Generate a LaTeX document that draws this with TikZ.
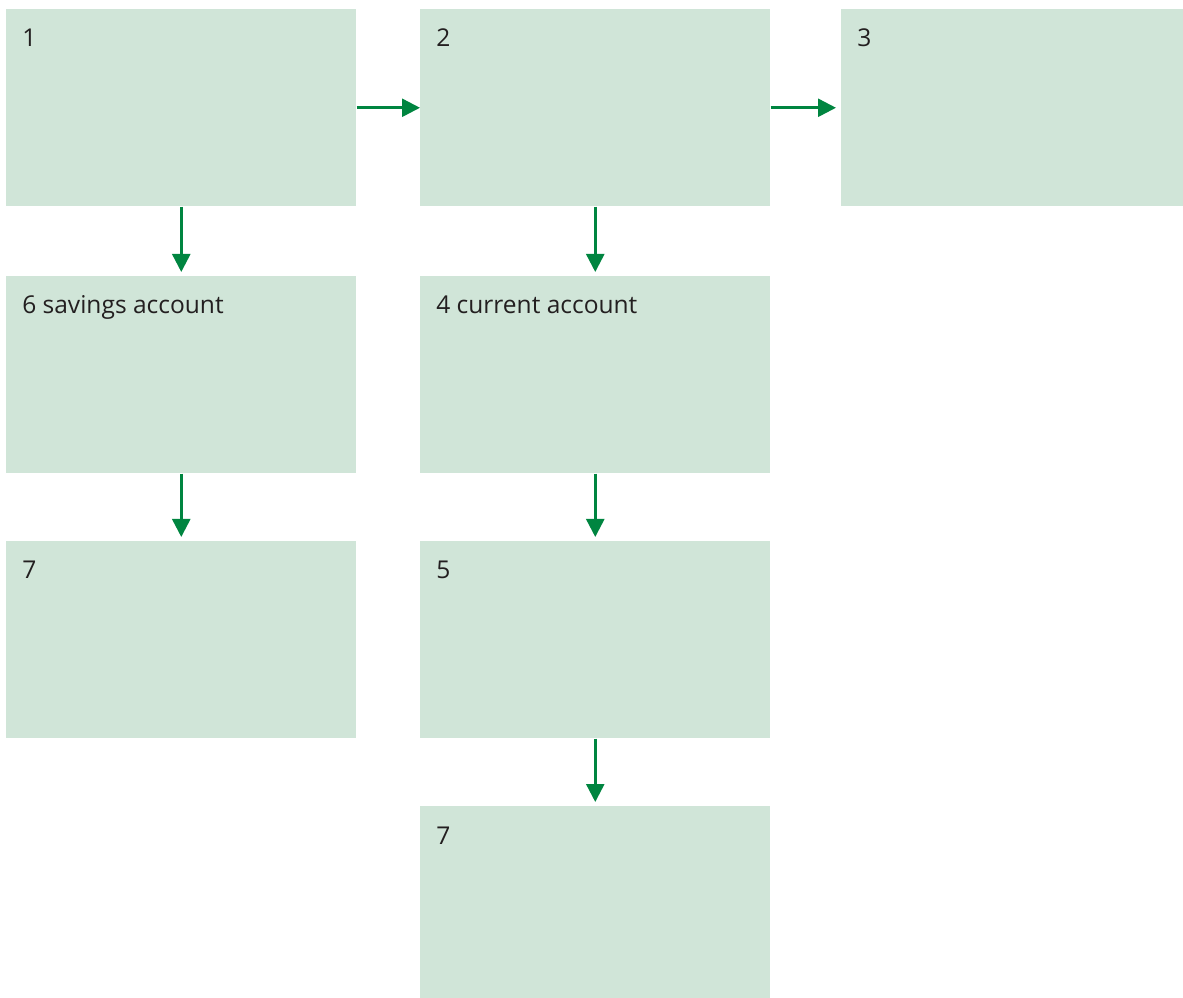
\documentclass[tikz,border=0pt]{standalone}
\usepackage{fontspec}
\setmainfont{Open Sans}
\usetikzlibrary{arrows.meta}
\definecolor{boxfill}{HTML}{D0E5D8}
\definecolor{arrgreen}{HTML}{008540}
\definecolor{txt}{HTML}{231F20}
\begin{document}
\begin{tikzpicture}[x=0.75pt,y=-0.75pt,
  box/.style={rectangle, fill=boxfill, draw=none, inner sep=0pt, anchor=north west,
    minimum width=262.5pt, minimum height=147.75pt},
  lab/.style={label={[anchor=base west, xshift=12pt, yshift=-28.5pt, inner sep=0pt,
    text=txt, font=\fontsize{18.4pt}{22pt}\selectfont]north west:#1}},
  arr/.style={draw=arrgreen, line width=1.9pt, -{Triangle[length=13.5pt, width=13.5pt]}}]
\useasboundingbox (0,0) rectangle (1183,998);
\node[box, lab=1] (n1) at (6,9) {};
\node[box, lab=2] (n2) at (420,9) {};
\node[box, lab=3, minimum width=256.5pt] (n3) at (841,9) {};
\node[box, lab=6 savings account] (n6) at (6,276) {};
\node[box, lab=4 current account] (n4) at (420,276) {};
\node[box, lab=7] (n7a) at (6,541) {};
\node[box, lab=5] (n5) at (420,541) {};
\node[box, lab=7, minimum height=144pt] (n7b) at (420,806) {};
\draw[arr] (n1.east) -- (n2.west);
\draw[arr, shorten >=3.75pt] (n2.east) -- (n3.west);
\draw[arr, shorten >=3pt] (n1.south) -- (n6.north);
\draw[arr, shorten >=3pt] (n2.south) -- (n4.north);
\draw[arr, shorten >=3pt] (n6.south) -- (n7a.north);
\draw[arr, shorten >=3pt] (n4.south) -- (n5.north);
\draw[arr, shorten >=3pt] (n5.south) -- (n7b.north);
\end{tikzpicture}
\end{document}
